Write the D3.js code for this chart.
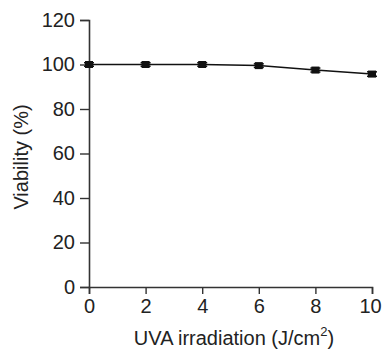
<!DOCTYPE html>
<html>
<head>
<meta charset="utf-8">
<script src="https://cdn.jsdelivr.net/npm/d3@7"></script>
<style>
  body { margin: 0; background: #fff; }
  text { font-family: "Liberation Sans", Arial, sans-serif; fill: #222; }
</style>
</head>
<body>
<div id="chart"></div>
<script>
const doses = [0, 2, 4, 6, 8, 10]
const viability = [100, 100, 100, 99.5, 97.5, 95.7]
const errors = [0.8, 0.8, 0.8, 0.8, 0.9, 1.0]
const xTicks = [0, 2, 4, 6, 8, 10]
const yTicks = [0, 20, 40, 60, 80, 100, 120]

const width = 382
const height = 352
const margins = {top: 20, right: 10, bottom: 65, left: 89}

const svg = d3.select("#chart")
    .append("svg")
    .attr("width", width)
    .attr("height", height)

const xScale = d3.scaleLinear()
    .domain([0, 10])
    .range([margins.left, 372])

const yScale = d3.scaleLinear()
    .domain([0, 120])
    .range([height - margins.bottom, margins.top])

const xAxis = d3.axisBottom(xScale).tickValues(xTicks).tickSize(7).tickPadding(5)
const yAxis = d3.axisLeft(yScale).tickValues(yTicks).tickSize(9).tickPadding(5)

const gx = svg.append("g")
    .attr("transform", `translate(0,${yScale(0)})`)
    .call(xAxis)

const gy = svg.append("g")
    .attr("transform", `translate(${xScale(0)},0)`)
    .call(yAxis)

for (const g of [gx, gy]) {
    g.select(".domain").attr("stroke", "#333").attr("stroke-width", 1.6)
    g.selectAll(".tick line").attr("stroke", "#333").attr("stroke-width", 1.4)
    g.selectAll(".tick text").style("font-size", "20px").attr("fill", "#222")
}
// keep the last x label inside the frame
gx.selectAll(".tick text").filter(d => d === 10).attr("dx", -2)

// line through points
const line = d3.line()
    .x((d, i) => xScale(doses[i]))
    .y(d => yScale(d))

svg.append("path")
    .datum(viability)
    .attr("fill", "none")
    .attr("stroke", "#111")
    .attr("stroke-width", 1.5)
    .attr("d", line)

// error bars
const eb = svg.selectAll(".err")
    .data(viability)
    .enter()
    .append("g")
    .attr("class", "err")

eb.append("line")
    .attr("x1", (d, i) => xScale(doses[i]))
    .attr("x2", (d, i) => xScale(doses[i]))
    .attr("y1", (d, i) => yScale(d + errors[i]))
    .attr("y2", (d, i) => yScale(d - errors[i]))
    .attr("stroke", "#111")
    .attr("stroke-width", 1.5)

for (const sign of [1, -1]) {
    eb.append("line")
        .attr("x1", (d, i) => xScale(doses[i]) - 5)
        .attr("x2", (d, i) => xScale(doses[i]) + 5)
        .attr("y1", (d, i) => yScale(d + sign * errors[i]))
        .attr("y2", (d, i) => yScale(d + sign * errors[i]))
        .attr("stroke", "#111")
        .attr("stroke-width", 1.5)
}

// square markers
svg.selectAll(".pt")
    .data(viability)
    .enter()
    .append("rect")
    .attr("class", "pt")
    .attr("x", (d, i) => xScale(doses[i]) - 4)
    .attr("y", d => yScale(d) - 3.5)
    .attr("width", 8)
    .attr("height", 7)
    .attr("fill", "#111")

// axis labels
svg.append("text")
    .attr("transform", `translate(28,157) rotate(-90)`)
    .attr("text-anchor", "middle")
    .style("font-size", "20px")
    .text("Viability (%)")

const xl = svg.append("text")
    .attr("x", 234)
    .attr("y", 345)
    .attr("text-anchor", "middle")
    .style("font-size", "20px")
xl.append("tspan").text("UVA irradiation (J/cm")
xl.append("tspan").attr("dy", -9).style("font-size", "13px").text("2")
xl.append("tspan").attr("dy", 9).text(")")
</script>
</body>
</html>
